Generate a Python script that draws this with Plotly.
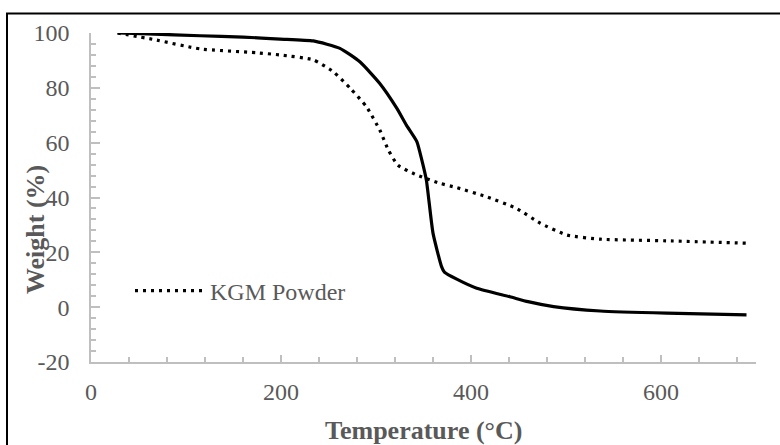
import plotly.graph_objects as go

# Solid curve (no legend entry)
solid_T = [28, 60, 115, 160, 199, 234, 262, 283, 304, 322, 332, 343, 348, 353, 360, 369, 372, 385, 406, 441, 460, 487, 536, 606, 690]
solid_W = [100, 99.7, 99.0, 98.5, 97.8, 97.1, 94.4, 89.5, 81.6, 72.5, 66.4, 60.4, 54.0, 46.4, 27.0, 14.8, 12.8, 10.2, 6.9, 3.8, 2.0, 0.2, -1.4, -2.2, -2.8]

# KGM Powder (dotted)
kgm_T = [28, 65, 115, 174, 199, 234, 255, 273, 290, 304, 313, 323, 343, 367, 385, 416, 448, 473, 501, 536, 606, 692]
kgm_W = [100, 97.7, 94.2, 92.8, 92.0, 90.2, 85.9, 79.8, 73.1, 64.6, 57.3, 51.8, 48.2, 45.2, 43.6, 40.3, 36.0, 30.6, 26.3, 24.8, 24.2, 23.3]

x_ticks = [0, 200, 400, 600]
x_labels = ["0", "200", "400", "600"]
y_ticks = [-20, 0, 20, 40, 60, 80, 100]
y_labels = ["-20", "0", "20", "40", "60", "80", "100"]

FONT = "Liberation Serif"
GRAY = "#595959"
AXIS = "#bfbfbf"

fig = go.Figure()
fig.add_trace(go.Scatter(x=kgm_T, y=kgm_W, mode="lines", name="KGM Powder",
                         line=dict(color="black", width=3.2, dash="3px,5px", shape="spline", smoothing=0.5)))
fig.add_trace(go.Scatter(x=solid_T, y=solid_W, mode="lines", name="KGM Film", showlegend=False,
                         line=dict(color="black", width=3.2, shape="spline", smoothing=0.5)))

L, R, T, B = 91, 24, 33, 83
W, H = 780, 445
pw, ph = W - L - R, H - T - B

def px(xp):
    return (xp - L) / pw

def py(yp):
    return (H - B - yp) / ph

fig.update_layout(
    width=W, height=H,
    margin=dict(l=L, r=R, t=T, b=B),
    paper_bgcolor="white", plot_bgcolor="white",
    font=dict(family=FONT, size=24, color=GRAY),
    xaxis=dict(range=[0, 700], tickvals=x_ticks, ticktext=x_labels, ticks="inside", ticklen=7, tickcolor=AXIS, tickwidth=1.5,
               showline=True, linecolor=AXIS, linewidth=1.5, showgrid=False, zeroline=False,
               ticklabelstandoff=7,
               minor=dict(dtick=40, ticks="inside", ticklen=5, tickcolor=AXIS, tickwidth=1.5, showgrid=False),
               tickfont=dict(family=FONT, size=24, color=GRAY)),
    yaxis=dict(range=[-20, 100], tickvals=y_ticks, ticktext=y_labels, ticks="inside", ticklen=9, tickcolor=AXIS, tickwidth=1.5,
               showline=True, linecolor=AXIS, linewidth=1.5, showgrid=False, zeroline=False,
               ticklabelstandoff=15,
               minor=dict(dtick=4, ticks="inside", ticklen=5, tickcolor=AXIS, tickwidth=1.5, showgrid=False),
               tickfont=dict(family=FONT, size=24, color=GRAY)),
    showlegend=True,
    legend=dict(x=px(130), y=py(291), xanchor="left", yanchor="middle", bgcolor="rgba(0,0,0,0)",
                font=dict(family=FONT, size=24, color=GRAY), itemwidth=70),
    annotations=[
        dict(text="<b>Temperature (°C)</b>", xref="paper", yref="paper", x=0.5, y=py(430),
             xanchor="center", yanchor="middle", showarrow=False,
             font=dict(family=FONT, size=26, color=GRAY)),
        dict(text="<b>Weight (%)</b>", xref="paper", yref="paper", x=px(35), y=py(230),
             xanchor="center", yanchor="middle", showarrow=False, textangle=-90,
             font=dict(family=FONT, size=26, color=GRAY)),
    ],
    shapes=[
        dict(type="rect", xref="paper", yref="paper", x0=px(7), x1=px(785), y0=py(450), y1=py(13.5),
             line=dict(color="black", width=2), fillcolor="rgba(0,0,0,0)", layer="below"),
    ],
)

fig.write_html("out.html")
